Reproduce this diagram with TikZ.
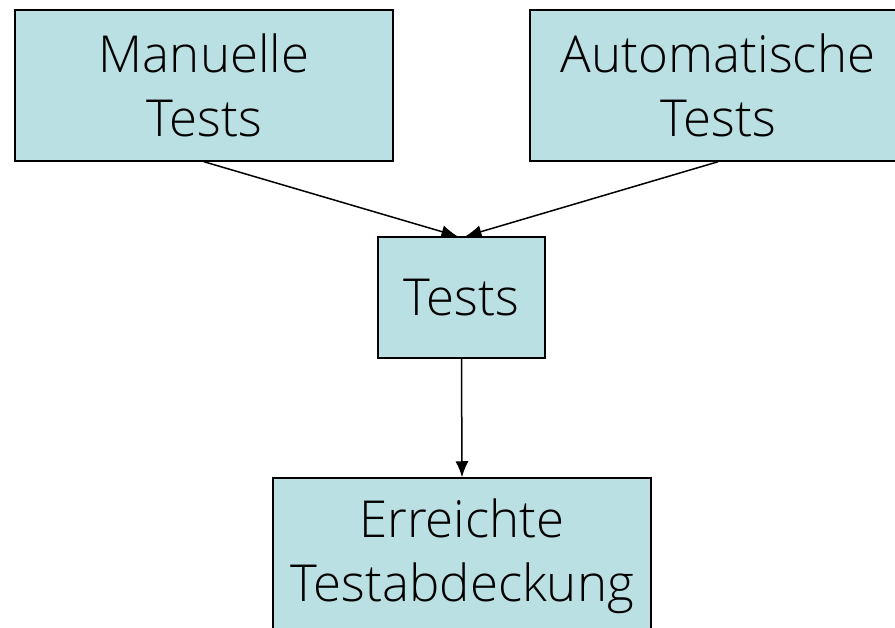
\documentclass[tikz,border=0pt]{standalone}
\usepackage{fontspec}
\setmainfont{Open Sans}[UprightFont={* Light}]
\usepackage{tikz}
\usetikzlibrary{arrows.meta,positioning}

\definecolor{boxfill}{HTML}{BBE0E3}

\tikzset{
  testbox/.style={draw=black,line width=1.5pt,fill=boxfill,rectangle,
    inner sep=0pt,align=center,font=\fontsize{51}{64}\selectfont},
  flow/.style={-{Latex[length=16pt,width=13pt]},line width=1.5pt}
}

\begin{document}
\begin{tikzpicture}[x=1pt,y=-1pt]
  \useasboundingbox (0,0) rectangle (895,628);
  \clip (0,0) rectangle (895,628);
  \node[testbox,minimum width=378pt,minimum height=151pt] (man) at (204,85.5) {Manuelle\\Tests};
  \node[testbox,minimum width=376pt,minimum height=151pt] (auto) at (718,85.5) {Automatische\\Tests};
  \node[testbox,minimum width=167pt,minimum height=121pt] (tests) at (461.5,297.5) {Tests};
  \node[testbox,minimum width=378pt,minimum height=156pt] (cov) at (462,556) {Erreichte\\Testabdeckung};
  \draw[flow] (man.south) -- ([xshift=-4pt]tests.north);
  \draw[flow] (auto.south) -- ([xshift=4pt]tests.north);
  \draw[flow] (tests.south) -- (cov.north);
\end{tikzpicture}
\end{document}
